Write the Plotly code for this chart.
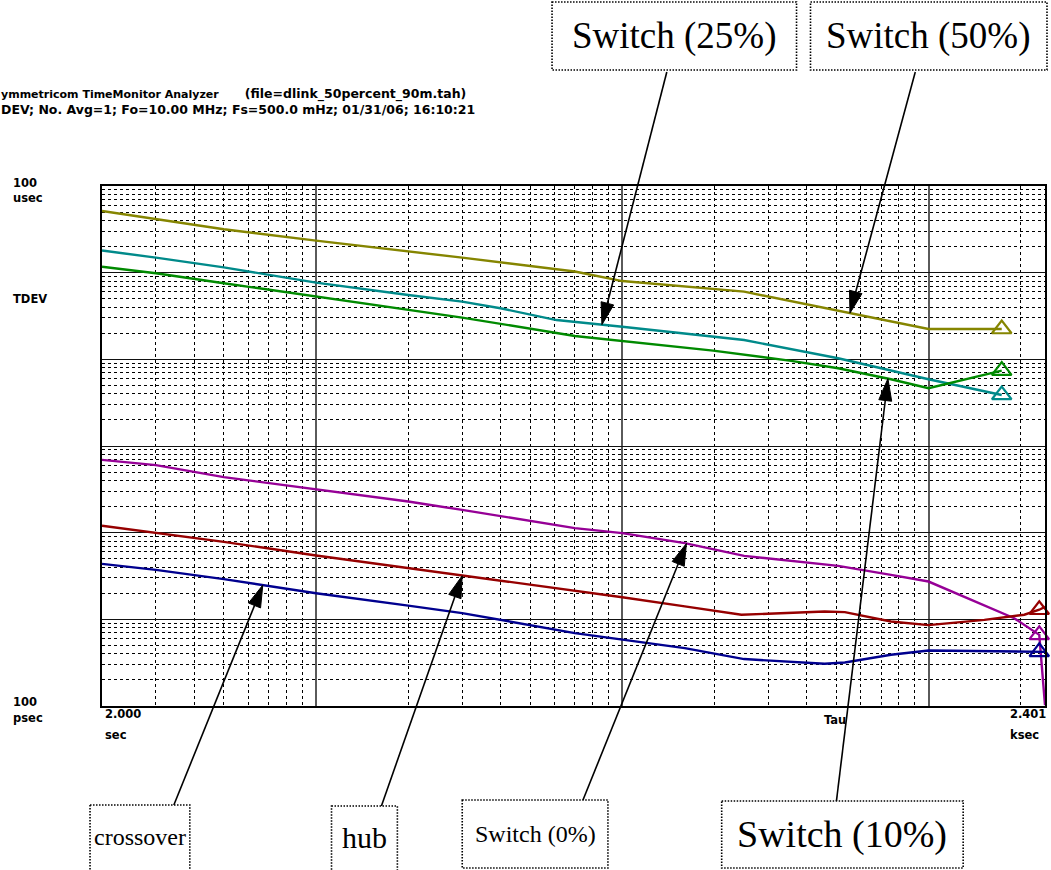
import numpy as np
import plotly.graph_objects as go

# ---- TDEV data (tau in seconds, TDEV in seconds) ----
tau_sw50 = [2, 3, 5, 10, 20, 30, 70, 100, 250, 550, 1000, 1734]
tdev_sw50 = [5.15e-5, 4.16e-5, 3.17e-5, 2.34e-5, 1.78e-5, 1.49e-5, 1.03e-5, 8.0e-6, 6.04e-6, 3.43e-6, 2.24e-6, 2.24e-6]

tau_sw25 = [2, 3, 5, 10, 20, 30, 40, 61, 100, 250, 507, 1000, 1734]
tdev_sw25 = [1.80e-5, 1.49e-5, 1.15e-5, 7.67e-6, 5.53e-6, 4.63e-6, 3.88e-6, 2.84e-6, 2.38e-6, 1.67e-6, 1.03e-6, 5.89e-7, 3.88e-7]

tau_sw10 = [2, 3, 5, 10, 20, 30, 70, 100, 198, 356, 507, 754, 1000, 1734]
tdev_sw10 = [1.17e-5, 9.84e-6, 7.55e-6, 5.28e-6, 3.71e-6, 3.03e-6, 1.86e-6, 1.63e-6, 1.26e-6, 9.59e-7, 7.89e-7, 5.89e-7, 4.64e-7, 7.41e-7]

tau_sw0 = [2, 3, 5, 10, 20, 30, 70, 100, 160, 250, 507, 754, 1000, 1905, 2300, 2401]
tdev_sw0 = [6.92e-8, 6.01e-8, 4.37e-8, 3.18e-8, 2.29e-8, 1.83e-8, 1.13e-8, 9.87e-9, 7.57e-9, 5.40e-9, 4.14e-9, 3.26e-9, 2.73e-9, 1.03e-9, 6.62e-10, 1.02e-10]

tau_hub = [2, 3, 5, 10, 20, 30, 70, 100, 160, 245, 299, 458, 533, 754, 1000, 1522, 2055, 2300, 2401]
tdev_hub = [1.20e-8, 1.00e-8, 7.83e-9, 5.45e-9, 3.90e-9, 3.18e-9, 2.15e-9, 1.80e-9, 1.41e-9, 1.13e-9, 1.16e-9, 1.23e-9, 1.21e-9, 9.44e-10, 8.58e-10, 9.86e-10, 1.13e-9, 1.29e-9, 1.39e-9]

tau_cross = [2, 3, 5, 10, 20, 30, 70, 100, 160, 250, 356, 458, 533, 754, 1000, 1596, 2300, 2401]
tdev_cross = [4.36e-9, 3.72e-9, 2.91e-9, 2.00e-9, 1.44e-9, 1.18e-9, 6.94e-10, 5.81e-10, 4.66e-10, 3.48e-10, 3.26e-10, 3.07e-10, 3.18e-10, 3.90e-10, 4.37e-10, 4.30e-10, 4.21e-10, 4.21e-10]

# tau at which each curve carries its end marker
marker_tau = {"sw50": 1734, "sw25": 1734, "sw10": 1734, "sw0": 2300, "hub": 2300, "cross": 2300}

series = {
    "sw50": (tau_sw50, tdev_sw50, "#858500"),
    "sw25": (tau_sw25, tdev_sw25, "#008a8a"),
    "sw10": (tau_sw10, tdev_sw10, "#008a00"),
    "sw0": (tau_sw0, tdev_sw0, "#960096"),
    "hub": (tau_hub, tdev_hub, "#960000"),
    "cross": (tau_cross, tdev_cross, "#00008f"),
}

# series, arrow target tau, arrow tail (pixels)
callouts = [
    ("sw25", 85.8, (668, 72)),
    ("sw50", 554, (917, 72)),
    ("sw10", 737, (838, 801)),
    ("sw0", 162, (584, 800)),
    ("hub", 30, (382, 806)),
    ("cross", 6.7, (174, 805)),
]

# label text, box (pixels), font size
boxes = [
    ("Switch (25%)", (553, 2, 798, 70), 37),
    ("Switch (50%)", (812, 2, 1049, 70), 37),
    ("crossover", (90, 805, 190, 880), 24),
    ("hub", (332, 806, 398, 880), 30),
    ("Switch (0%)", (463, 800, 609, 868), 24),
    ("Switch (10%)", (723, 801, 965, 868), 38),
]

X_RANGE = (2.0, 2401.0)
Y_RANGE = (1e-10, 1e-4)

W, H = 1051, 870
ML, MR, MT, MB = 102, 4, 186, 164
PW, PH = W - ML - MR, H - MT - MB


def px2paper(px, py):
    return (px - ML) / PW, 1 - (py - MT) / PH


def data2px(tau, val):
    lx0, lx1 = np.log10(X_RANGE)
    ly0, ly1 = np.log10(Y_RANGE)
    px = ML + (np.log10(tau) - lx0) / (lx1 - lx0) * PW
    py = MT + (ly1 - np.log10(val)) / (ly1 - ly0) * PH
    return px, py


def interp_log(taus, vals, t):
    return 10 ** np.interp(np.log10(t), np.log10(taus), np.log10(vals))


fig = go.Figure()

for key, (taus, vals, color) in series.items():
    fig.add_trace(go.Scatter(x=taus, y=vals, mode="lines",
                             line=dict(color=color, width=2.4),
                             showlegend=False, hoverinfo="skip"))
    i = taus.index(marker_tau[key])
    fig.add_trace(go.Scatter(x=[taus[i]], y=[vals[i]], mode="markers",
                             marker=dict(symbol="triangle-up-open", size=17,
                                         color=color, line=dict(width=2.2, color=color)),
                             showlegend=False, hoverinfo="skip", cliponaxis=False))

shapes = []
annotations = []

# arrows pointing from the label boxes to the curves
for key, t_target, (tx, ty) in callouts:
    taus, vals, _ = series[key]
    hx, hy = data2px(t_target, interp_log(taus, vals, t_target))
    dx, dy = hx - tx, hy - ty
    L = np.hypot(dx, dy)
    ux, uy = dx / L, dy / L
    nx, ny = -uy, ux
    head_len, head_half = 22, 6.5
    bx, by = hx - ux * head_len, hy - uy * head_len
    p0 = px2paper(tx, ty)
    p1 = px2paper(bx + ux * 2, by + uy * 2)
    shapes.append(dict(type="line", xref="paper", yref="paper",
                       x0=p0[0], y0=p0[1], x1=p1[0], y1=p1[1],
                       line=dict(color="black", width=1.6)))
    a = px2paper(hx, hy)
    b = px2paper(bx + nx * head_half, by + ny * head_half)
    c = px2paper(bx - nx * head_half, by - ny * head_half)
    shapes.append(dict(type="path", xref="paper", yref="paper",
                       path=f"M {a[0]},{a[1]} L {b[0]},{b[1]} L {c[0]},{c[1]} Z",
                       fillcolor="black", line=dict(color="black", width=1)))

# dotted label boxes
for text, (x0, y0, x1, y1), fs in boxes:
    p0 = px2paper(x0, y0)
    p1 = px2paper(x1, y1)
    shapes.append(dict(type="rect", xref="paper", yref="paper",
                       x0=p0[0], y0=p0[1], x1=p1[0], y1=p1[1],
                       line=dict(color="black", width=1.6, dash="1.5px,1.5px"),
                       fillcolor="rgba(0,0,0,0)"))
    cx, cy = px2paper((x0 + x1) / 2, (y0 + min(y1, 868)) / 2)
    annotations.append(dict(xref="paper", yref="paper", x=cx, y=cy,
                            text=text, showarrow=False,
                            xanchor="center", yanchor="middle",
                            font=dict(family="Liberation Serif", size=fs, color="black")))


def label(text, px, py, size=11.5, anchor="left"):
    x, y = px2paper(px, py)
    annotations.append(dict(xref="paper", yref="paper", x=x, y=y, text=f"<b>{text}</b>",
                            showarrow=False, xanchor=anchor, yanchor="middle", align="left",
                            font=dict(family="DejaVu Sans", size=size, color="black")))


# analyzer header (two lines)
gap = "\u00a0" * 6
label("<span style='font-size:11px'>ymmetricom TimeMonitor Analyzer</span>" + gap
      + "(file=dlink_50percent_90m.tah)<br>"
      + "DEV; No. Avg=1; Fo=10.00 MHz; Fs=500.0 mHz; 01/31/06; 16:10:21", -1, 102, 12.5)

label("100", 11, 183)
label("usec", 11, 198)
label("TDEV", 11, 299)
label("100", 11, 702)
label("psec", 11, 718)
label("2.000", 103, 714)
label("sec", 103, 735)
label("Tau", 824, 720)
label("2.401", 1010, 714)
label("ksec", 1010, 735)

x_minor = [m * 10 ** d for d in range(0, 4) for m in range(2, 10) if 2 < m * 10 ** d < 2401]
y_minor = [m * 10.0 ** d for d in range(-10, -4) for m in range(2, 10)]

fig.update_layout(
    width=W, height=H,
    margin=dict(l=ML, r=MR, t=MT, b=MB),
    paper_bgcolor="white", plot_bgcolor="white",
    shapes=shapes, annotations=annotations,
    xaxis=dict(type="log", range=[np.log10(X_RANGE[0]), np.log10(X_RANGE[1])],
               tickmode="array", tickvals=[10, 100, 1000], showticklabels=False, ticks="",
               showgrid=True, gridcolor="#5a5a5a", gridwidth=2,
               minor=dict(tickmode="array", tickvals=x_minor, showgrid=True,
                          gridcolor="black", gridwidth=1, griddash="3px,3px", ticks=""),
               showline=True, mirror=True, linecolor="black", linewidth=1.5,
               zeroline=False),
    yaxis=dict(type="log", range=[np.log10(Y_RANGE[0]), np.log10(Y_RANGE[1])],
               tickmode="array", tickvals=[1e-9, 1e-8, 1e-7, 1e-6, 1e-5],
               showticklabels=False, ticks="",
               showgrid=True, gridcolor="#111111", gridwidth=1.2,
               minor=dict(tickmode="array", tickvals=y_minor, showgrid=True,
                          gridcolor="black", gridwidth=1, griddash="3px,3px", ticks=""),
               showline=True, mirror=True, linecolor="black", linewidth=1.5,
               zeroline=False),
)

fig.write_html("out.html")
